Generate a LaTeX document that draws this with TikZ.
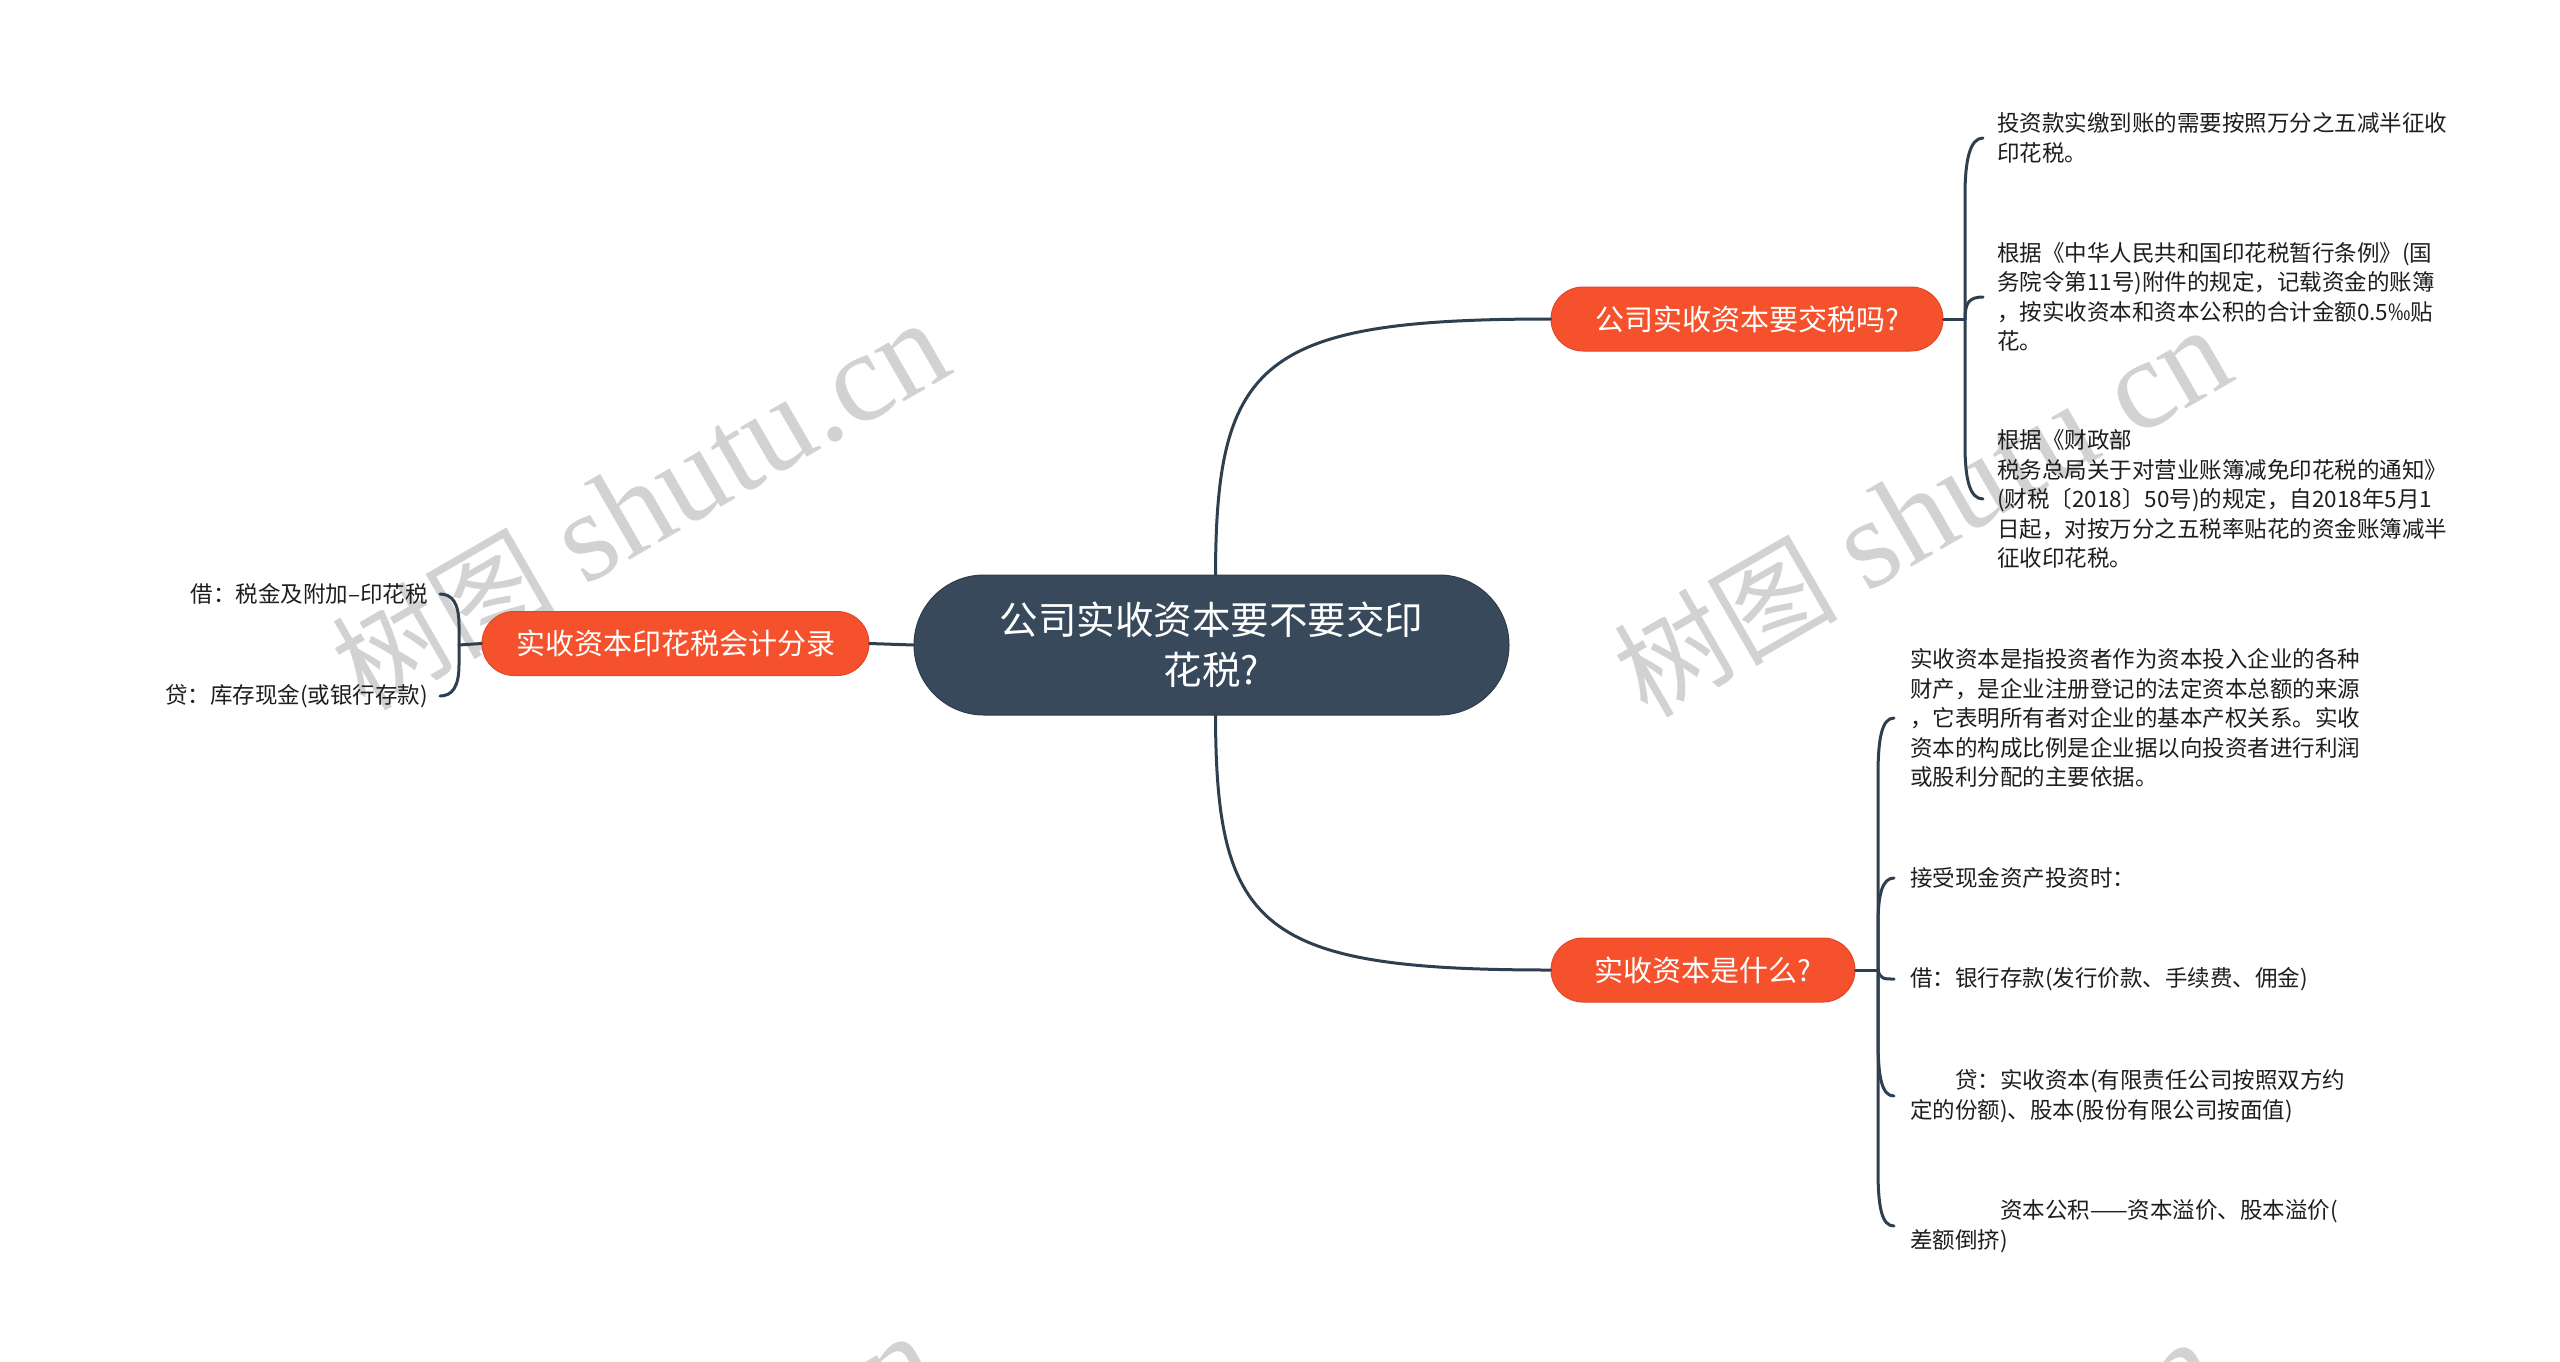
\documentclass[tikz,border=0pt]{standalone}
\usepackage{fontspec}
\setmainfont{Noto Sans CJK SC}
\newfontfamily\wmlatin{Liberation Serif}
\newfontfamily\wmcjk{Noto Sans CJK SC}
\definecolor{linec}{HTML}{2E3F50}
\definecolor{darkc}{HTML}{37495A}
\definecolor{darkb}{HTML}{2C3C4B}
\definecolor{orangec}{HTML}{F4512C}
\definecolor{orangeb}{HTML}{E2472A}
\definecolor{textc}{HTML}{1E1E1E}
\definecolor{wmc}{HTML}{D2D2D2}
\tikzset{
  conn/.style={draw=linec, line width=3pt, line cap=round},
  topic/.style={fill=orangec, draw=orangeb, line width=1pt, rounded corners=32pt,
    minimum height=64pt, inner sep=0pt, text=white, font=\fontsize{29}{35}\selectfont},
  centraltopic/.style={fill=darkc, draw=darkb, line width=1pt, rounded corners=70pt,
    minimum width=595pt, minimum height=140pt, inner sep=0pt, text=white, align=center,
    font=\fontsize{38.5}{50}\selectfont},
  leaf/.style={anchor=west, inner sep=0pt, align=left, text=textc,
    font=\fontsize{22.5}{29.5}\selectfont},
  leafr/.style={anchor=east, inner sep=0pt, align=right, text=textc,
    font=\fontsize{22.5}{29.5}\selectfont},
  wm/.style={text=wmc, inner sep=0pt, rotate=30}
}
\newcommand{\wmtext}{{\wmcjk\fontsize{112}{120}\selectfont 树图}\hspace{28pt}{\wmlatin\fontsize{128}{130}\selectfont shutu.cn}}
\begin{document}
\begin{tikzpicture}[x=1pt,y=-1pt]
\fill[white] (0,0) rectangle (2560,1361);
\useasboundingbox (0,0) rectangle (2560,1361);
% watermarks
\begin{scope}
\clip (0,0) rectangle (2560,1361);
\node[wm] (w1) at (640,505) {\wmtext};
\node[wm] (w2) at (1922,512) {\wmtext};
\node[wm] (w3) at (628,1518) {\wmtext};
\node[wm] (w4) at (1910,1524) {\wmtext};
\end{scope}

% topics
\node[centraltopic] (c) at (1211.5,645) {公司实收资本要不要交印\\花税?};
\node[topic, minimum width=392pt] (t) at (1747,319) {公司实收资本要交税吗?};
\node[topic, minimum width=304pt] (b) at (1703,970) {实收资本是什么?};
\node[topic, minimum width=387pt] (l) at (675.5,643.5) {实收资本印花税会计分录};

% leaves top-right
\node[leaf] (a1) at (1997,138) {投资款实缴到账的需要按照万分之五减半征收\\印花税。};
\node[leaf] (a2) at (1997,297) {根据《中华人民共和国印花税暂行条例》(国\\务院令第11号)附件的规定，记载资金的账簿\\，按实收资本和资本公积的合计金额0.5‰贴\\花。};
\node[leaf] (a3) at (1997,499) {根据《财政部\\税务总局关于对营业账簿减免印花税的通知》\\(财税〔2018〕50号)的规定，自2018年5月1\\日起，对按万分之五税率贴花的资金账簿减半\\征收印花税。};

% leaves bottom-right
\node[leaf] (b1) at (1910,718) {实收资本是指投资者作为资本投入企业的各种\\财产，是企业注册登记的法定资本总额的来源\\，它表明所有者对企业的基本产权关系。实收\\资本的构成比例是企业据以向投资者进行利润\\或股利分配的主要依据。};
\node[leaf] (b2) at (1910,878) {接受现金资产投资时：};
\node[leaf] (b3) at (1910,979) {借：银行存款(发行价款、手续费、佣金)};
\node[leaf] (b4) at (1910,1096) {\hspace*{45pt}贷：实收资本(有限责任公司按照双方约\\定的份额)、股本(股份有限公司按面值)};
\node[leaf] (b5) at (1910,1226) {\hspace*{90pt}资本公积——资本溢价、股本溢价(\\差额倒挤)};

% leaves left
\node[leafr] (c1) at (428,594) {借：税金及附加–印花税};
\node[leafr] (c2) at (428,696) {贷：库存现金(或银行存款)};

% junctions
\coordinate (j1) at (1965,319);
\coordinate (j2) at (1878,970);
\coordinate (j3) at (459,645);

% main connectors
\draw[conn] ([xshift=4pt]c.north) .. controls (1216,360) and (1262,319) .. (t.west);
\draw[conn] ([xshift=4pt]c.south) .. controls (1216,930) and (1262,970) .. (b.west);
\draw[conn] (c.west) -- (l.east);

% top-right brace
\draw[conn] (t.east) -- (j1);
\draw[conn] (j1) -- (1965,195) .. controls (1965,160) and (1970,138) .. ([xshift=-14pt]a1.west);
\draw[conn] (j1) .. controls (1965,303) and (1969,297) .. ([xshift=-14pt]a2.west);
\draw[conn] (j1) -- (1965,445) .. controls (1965,480) and (1970,499) .. ([xshift=-14pt]a3.west);

% bottom-right brace
\draw[conn] (b.east) -- (j2);
\draw[conn] (j2) -- (1878,775) .. controls (1878,738) and (1882,718) .. ([xshift=-16pt]b1.west);
\draw[conn] (j2) -- (1878,925) .. controls (1878,895) and (1882,878) .. ([xshift=-16pt]b2.west);
\draw[conn] (j2) .. controls (1880,979) and (1884,979) .. ([xshift=-16pt]b3.west);
\draw[conn] (j2) -- (1878,1040) .. controls (1878,1078) and (1882,1096) .. ([xshift=-16pt]b4.west);
\draw[conn] (j2) -- (1878,1170) .. controls (1878,1208) and (1882,1226) .. ([xshift=-16pt]b5.west);

% left brace
\draw[conn] (l.west) -- (j3);
\draw[conn] (j3) -- (459,625) .. controls (459,603) and (452,594) .. ([xshift=12pt]c1.east);
\draw[conn] (j3) -- (459,665) .. controls (459,687) and (452,696) .. ([xshift=12pt]c2.east);
\end{tikzpicture}
\end{document}
